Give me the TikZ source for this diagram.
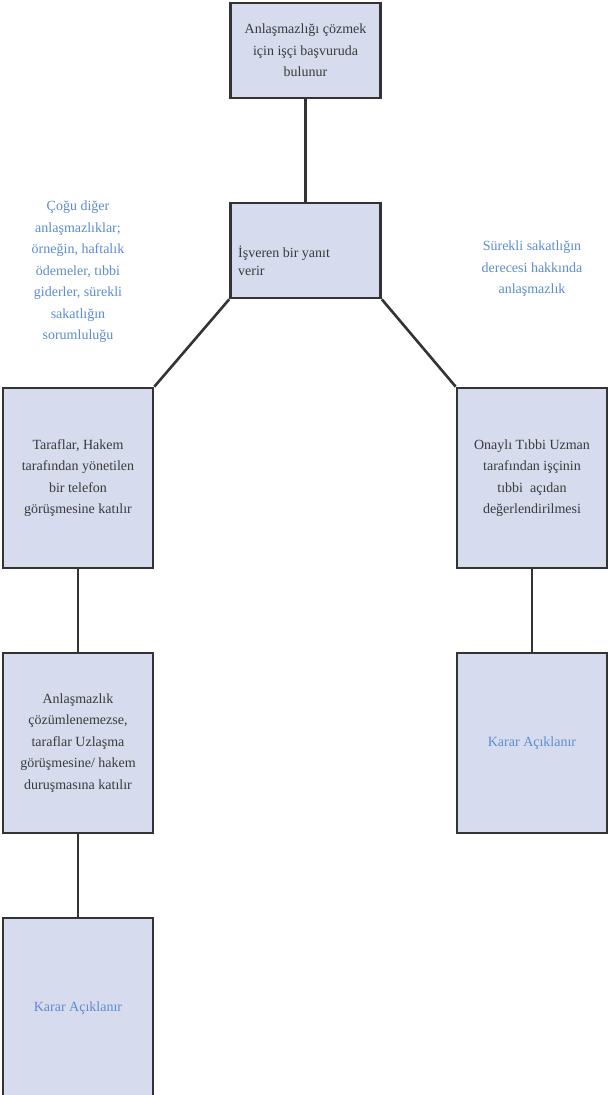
\documentclass[tikz,border=0pt]{standalone}
\usepackage{fontspec}
\setmainfont{Liberation Serif}
\definecolor{boxfill}{RGB}{214,220,237}
\definecolor{boxline}{RGB}{51,51,51}
\definecolor{txtgray}{RGB}{58,58,58}
\definecolor{bluetxt}{RGB}{92,140,212}
\tikzset{
  box/.style={draw=boxline, fill=boxfill, line width=2.6bp, minimum width=150bp, inner sep=0pt,
    align=center, text=txtgray, font=\fontsize{14bp}{21.5bp}\selectfont},
  bluelbl/.style={align=center, text=bluetxt, inner sep=0pt, font=\fontsize{14bp}{21.5bp}\selectfont},
  conn/.style={draw=boxline, line width=2.6bp}
}
\begin{document}
\begin{tikzpicture}[x=1bp,y=-1bp]
\useasboundingbox (0,0) rectangle (609,1095);
\fill[white] (0,0) rectangle (609,1095);
\node[box, minimum height=95bp] (A) at (305.5,50.5) {Anlaşmazlığı çözmek\\için işçi başvuruda\\bulunur};
\node[box, minimum height=95bp] (B) at (305.5,250.5) {};
\node[anchor=west, align=left, inner sep=0pt, text=txtgray, font=\fontsize{14bp}{18bp}\selectfont] (Bt) at (238,261) {İşveren bir yanıt\\verir};
\node[box, minimum height=180bp] (C) at (78,478) {Taraflar, Hakem\\tarafından yönetilen\\bir telefon\\görüşmesine katılır};
\node[box, minimum height=180bp] (D) at (78,743) {Anlaşmazlık\\çözümlenemezse,\\taraflar Uzlaşma\\görüşmesine/ hakem\\duruşmasına katılır};
\node[box, minimum height=180bp, text=bluetxt] (E) at (78,1008) {Karar Açıklanır};
\node[box, minimum height=180bp] (F) at (532,478) {Onaylı Tıbbi Uzman\\tarafından işçinin\\tıbbi\ \ açıdan\\değerlendirilmesi};
\node[box, minimum height=180bp, text=bluetxt] (G) at (532,743) {Karar Açıklanır};
\node[bluelbl] (L1) at (78,272) {Çoğu diğer\\anlaşmazlıklar;\\örneğin, haftalık\\ödemeler, tıbbi\\giderler, sürekli\\sakatlığın\\sorumluluğu};
\node[bluelbl] (L2) at (532,269) {Sürekli sakatlığın\\derecesi hakkında\\anlaşmazlık};
\draw[conn] (A.south) -- (B.north);
\draw[conn] (B.south west) -- (C.north east);
\draw[conn] (B.south east) -- (F.north west);
\draw[conn] (C.south) -- (D.north);
\draw[conn] (D.south) -- (E.north);
\draw[conn] (F.south) -- (G.north);
\end{tikzpicture}
\end{document}
